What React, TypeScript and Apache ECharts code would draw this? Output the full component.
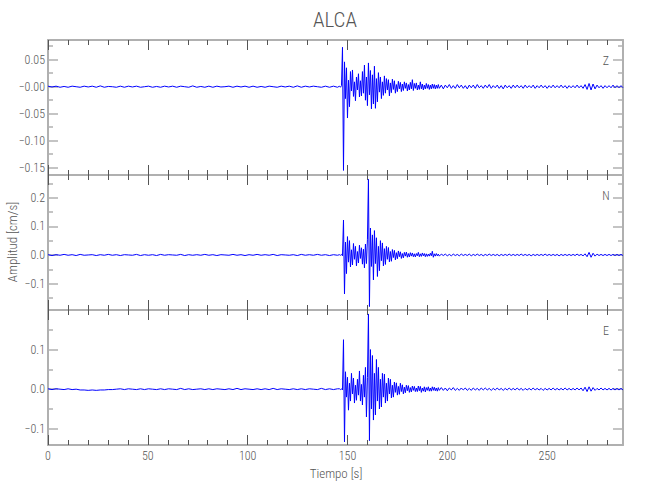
import React, { useEffect, useRef } from "react";
import * as echarts from "echarts";

const stationName = "ALCA";
const componentNames = ["Z", "N", "E"];
const xAxisName = "Tiempo [s]";
const yAxisName = "Amplitud [cm/s]";

const xRange = [0, 288];
const xTicks = [0, 50, 100, 150, 200, 250];
const xTickLabels = ["0", "50", "100", "150", "200", "250"];
const xMinorTicks = [10, 20, 30, 40, 60, 70, 80, 90, 110, 120, 130, 140, 160, 170, 180, 190, 210, 220, 230, 240, 260, 270, 280];

const zRange = [-0.1635, 0.0865];
const zTicks = [0.05, 0, -0.05, -0.1, -0.15];
const zTickLabels = ["0.05", "−0.00", "−0.05", "−0.10", "−0.15"];
const zMinorTicks = [0.075, 0.025, -0.025, -0.075, -0.125];

const nRange = [-0.192, 0.279];
const nTicks = [0.2, 0.1, 0, -0.1];
const nTickLabels = ["0.2", "0.1", "0.0", "−0.1"];
const nMinorTicks = [0.25, 0.15, 0.05, -0.05, -0.15];

const eRange = [-0.141, 0.2];
const eTicks = [0.1, 0, -0.1];
const eTickLabels = ["0.1", "0.0", "−0.1"];
const eMinorTicks = [0.15, 0.05, -0.05];

// Segment timing: quiet part spans 0–145 s, event sampled every 0.5 s from 146 s, tail spans 197–288 s
const quietSpan = [0, 145];
const eventStart = 146;
const eventStep = 0.5;
const tailSpan = [197, 288];

// ---- Z component ----
const zQuiet = [0.001, -0.0005, 0.001, -0.001, 0.0005, -0.001, 0.001, 0.0, -0.001, 0.001, -0.0005, 0.001, -0.001, 0.0015, -0.001, 0.0005, 0.0, -0.001, 0.001, -0.001, 0.001, -0.0005, 0.001, -0.001, 0.0, 0.001, -0.001, 0.0005, -0.001, 0.001, -0.0005, 0.001, -0.001, 0.001, 0.0, -0.001, 0.0015, -0.001, 0.0005, -0.001, 0.001, -0.001, 0.001, -0.0005, 0.0, 0.001, -0.001, 0.001, -0.0005, 0.001, -0.001, 0.001, -0.001, 0.0005, -0.001, 0.001, 0.0, -0.001, 0.001, -0.0005, 0.001, -0.001, 0.0015, -0.001, 0.001, -0.0005, 0.001, 0.0, -0.001, 0.001, -0.001, 0.001, -0.001];
const zEvent = [
  0.001, -0.001, 0.002, 0.073, -0.155, 0.046, -0.022, 0.035, -0.058, 0.012,
  -0.037, 0.028, -0.008, 0.031, -0.018, 0.009, -0.026, 0.018, -0.006, 0.024,
  -0.019, 0.011, -0.017, 0.028, -0.012, 0.04, -0.025, 0.018, -0.035, 0.044,
  -0.015, 0.03, -0.041, 0.022, -0.032, 0.038, -0.04, 0.015, -0.028, 0.026,
  -0.01, 0.018, -0.022, 0.009, -0.016, 0.02, -0.012, 0.015, -0.006, 0.013,
  -0.017, 0.007, -0.011, 0.014, -0.005, 0.011, -0.012, 0.004, -0.009, 0.01,
  -0.004, 0.008, -0.009, 0.005, -0.007, 0.009, -0.003, 0.007, -0.008, 0.004,
  -0.006, 0.008, -0.004, 0.013, -0.007, 0.006, -0.003, 0.007, -0.006, 0.003,
  -0.005, 0.009, -0.004, 0.005, -0.006, 0.003, -0.004, 0.006, -0.003, 0.004,
  -0.005, 0.003, -0.004, 0.005, -0.003, 0.004, -0.004, 0.003, -0.003, 0.004,
  -0.003,
];
const zTail = [0.003, -0.004, 0.003, -0.002, 0.004, -0.003, 0.002, -0.003, 0.004, -0.002, 0.003, -0.003, 0.002, -0.004, 0.003, -0.002, 0.003, -0.003, 0.004, -0.002, 0.002, -0.003, 0.003, -0.002, 0.004, -0.003, 0.002, -0.002, 0.003, -0.003, 0.002, -0.004, 0.003, -0.002, 0.002, -0.003, 0.003, -0.002, 0.003, -0.002, 0.002, -0.003, 0.003, -0.002, 0.002, -0.002, 0.003, -0.003, 0.002, -0.002, 0.003, -0.002, 0.002, -0.003, 0.002, -0.002, 0.003, -0.002, 0.002, -0.002, 0.003, -0.002, 0.002, -0.003, 0.002, -0.002, 0.002, -0.002, 0.003, -0.002, 0.002, -0.003, 0.004, -0.005, 0.006, -0.006, 0.005, -0.004, 0.003, -0.002, 0.002, -0.003, 0.002, -0.002, 0.002, -0.002, 0.003, -0.002, 0.002, -0.002, 0.002, -0.002];

// ---- N component ----
const nQuiet = [0.001, -0.002, 0.001, -0.001, 0.002, -0.001, 0.001, -0.002, 0.002, -0.001, 0.0, 0.001, -0.002, 0.001, -0.001, 0.002, -0.001, 0.001, -0.002, 0.001, 0.0, -0.001, 0.002, -0.002, 0.001, -0.001, 0.001, -0.002, 0.002, -0.001, 0.001, 0.0, -0.001, 0.002, -0.002, 0.001, -0.001, 0.001, -0.001, 0.002, -0.001, 0.001, -0.002, 0.001, 0.0, -0.001, 0.002, -0.001, 0.001, -0.002, 0.001, -0.001, 0.002, -0.001, 0.001, -0.001, 0.002, -0.002, 0.001, 0.0, -0.001, 0.001, -0.002, 0.002, -0.001, 0.001, -0.001, 0.002, -0.001, 0.001, -0.002, 0.001, -0.001];
const nEvent = [
  0.001, -0.001, 0.002, -0.003, 0.122, -0.136, 0.045, -0.065, 0.064, -0.025,
  0.05, -0.042, 0.018, -0.035, 0.04, -0.015, 0.03, -0.038, 0.012, -0.028,
  0.034, -0.012, 0.025, -0.032, 0.02, -0.045, 0.038, -0.03, 0.055, 0.264,
  -0.18, 0.094, -0.04, 0.07, -0.087, 0.085, -0.03, 0.06, -0.075, 0.03,
  -0.055, 0.05, -0.02, 0.042, -0.038, 0.022, -0.033, 0.03, -0.015, 0.026,
  -0.024, 0.012, -0.022, 0.019, -0.009, 0.016, -0.017, 0.008, -0.013, 0.014,
  -0.006, 0.011, -0.012, 0.005, -0.01, 0.009, -0.004, 0.01, -0.008, 0.005,
  -0.007, 0.008, -0.004, 0.007, -0.006, 0.004, -0.007, 0.005, -0.003, 0.009,
  -0.006, 0.004, -0.005, 0.007, -0.003, 0.005, -0.006, 0.004, -0.005, 0.003,
  -0.004, 0.006, -0.003, 0.013, -0.008, 0.004, -0.004, 0.005, -0.003, 0.003,
  -0.004,
];
const nTail = [0.003, -0.002, 0.003, -0.003, 0.002, -0.003, 0.003, -0.002, 0.002, -0.003, 0.003, -0.002, 0.002, -0.002, 0.003, -0.003, 0.002, -0.002, 0.003, -0.002, 0.002, -0.003, 0.002, -0.002, 0.003, -0.002, 0.002, -0.002, 0.002, -0.003, 0.002, -0.002, 0.002, -0.002, 0.003, -0.002, 0.002, -0.002, 0.002, -0.002, 0.003, -0.002, 0.002, -0.002, 0.002, -0.003, 0.002, -0.002, 0.002, -0.002, 0.002, -0.002, 0.003, -0.002, 0.002, -0.002, 0.002, -0.002, 0.002, -0.003, 0.002, -0.002, 0.002, -0.002, 0.002, -0.002, 0.002, -0.002, 0.003, -0.002, 0.002, -0.003, 0.004, -0.006, 0.009, -0.008, 0.006, -0.004, 0.003, -0.002, 0.002, -0.002, 0.002, -0.002, 0.002, -0.002, 0.002, -0.002, 0.002, -0.002, 0.002, -0.002];

// ---- E component ----
const eQuiet = [0.001, -0.001, 0.001, 0.0, -0.001, 0.001, -0.001, 0.0, -0.002, -0.002, -0.003, -0.002, -0.003, -0.002, -0.002, -0.001, -0.001, 0.0, 0.001, -0.001, 0.001, 0.0, -0.001, 0.001, -0.001, 0.001, 0.0, -0.001, 0.001, -0.001, 0.001, 0.0, -0.001, 0.002, -0.001, 0.001, -0.001, 0.0, 0.001, -0.001, 0.001, -0.001, 0.001, 0.0, -0.001, 0.001, -0.001, 0.002, -0.001, 0.001, 0.0, -0.001, 0.001, -0.001, 0.001, -0.001, 0.002, -0.001, 0.001, 0.0, -0.001, 0.001, -0.001, 0.001, -0.001, 0.001, 0.0, -0.001, 0.002, -0.001, 0.001, -0.001, 0.001];
const eEvent = [
  0.001, -0.001, 0.001, -0.002, 0.125, -0.133, 0.044, -0.02, 0.03, -0.053,
  0.015, -0.03, 0.04, -0.012, 0.028, -0.035, 0.01, -0.028, 0.025, -0.015,
  0.046, -0.03, 0.012, -0.04, 0.035, -0.02, 0.055, -0.07, 0.03, 0.19,
  -0.13, 0.1, -0.05, 0.085, -0.078, 0.04, -0.065, 0.075, -0.03, 0.055,
  -0.05, 0.025, -0.045, 0.04, -0.02, 0.038, -0.035, 0.015, -0.03, 0.028,
  -0.012, 0.025, -0.022, 0.01, -0.02, 0.018, -0.008, 0.016, -0.015, 0.007,
  -0.013, 0.015, -0.006, 0.011, -0.012, 0.005, -0.009, 0.01, -0.004, 0.009,
  -0.008, 0.004, -0.007, 0.008, -0.003, 0.007, -0.006, 0.003, -0.006, 0.008,
  -0.004, 0.007, -0.008, 0.003, -0.005, 0.006, -0.007, 0.004, -0.003, 0.006,
  -0.005, 0.003, -0.005, 0.006, -0.003, 0.005, -0.004, 0.003, -0.005, 0.004,
  -0.003,
];
const eTail = [0.004, -0.003, 0.003, -0.004, 0.003, -0.002, 0.004, -0.003, 0.002, -0.003, 0.003, -0.002, 0.003, -0.003, 0.002, -0.003, 0.003, -0.002, 0.002, -0.003, 0.003, -0.002, 0.003, -0.002, 0.002, -0.003, 0.002, -0.002, 0.003, -0.002, 0.002, -0.003, 0.002, -0.002, 0.003, -0.002, 0.002, -0.002, 0.003, -0.002, 0.002, -0.003, 0.002, -0.002, 0.002, -0.002, 0.003, -0.002, 0.002, -0.002, 0.002, -0.003, 0.002, -0.002, 0.002, -0.002, 0.003, -0.002, 0.002, -0.002, 0.002, -0.002, 0.003, -0.002, 0.002, -0.002, 0.002, -0.002, 0.003, -0.002, 0.003, -0.004, 0.005, -0.006, 0.006, -0.005, 0.004, -0.003, 0.002, -0.002, 0.003, -0.002, 0.002, -0.002, 0.002, -0.002, 0.002, -0.002, 0.002, -0.002, 0.002, -0.002];

const FONT = "'Roboto Condensed', 'Liberation Sans Narrow', Roboto, sans-serif";
const FONT_WEIGHT = 300;
const TEXT_COLOR = "#555555";
const AXIS_COLOR = "#b0b0b0";
const XTICK_COLOR = "#555555";

function spanned(values: number[], t0: number, t1: number): number[][] {
  const step = (t1 - t0) / (values.length - 1);
  return values.map((v, i) => [t0 + i * step, v]);
}
function stepped(values: number[], t0: number, step: number): number[][] {
  return values.map((v, i) => [t0 + i * step, v]);
}
function trace(q: number[], ev: number[], tl: number[]): number[][] {
  return [
    ...spanned(q, quietSpan[0], quietSpan[1]),
    ...stepped(ev, eventStart, eventStep),
    ...spanned(tl, tailSpan[0], tailSpan[1]),
  ];
}

const GRID_LEFT = 48;
const GRID_RIGHT = 27;
const GRID_TOPS = [40, 175, 310];
const GRID_H = 135;

function labelFor(ticks: number[], labels: string[]) {
  return (v: number) => {
    let best = 0;
    for (let i = 1; i < ticks.length; i++) {
      if (Math.abs(ticks[i] - v) < Math.abs(ticks[best] - v)) best = i;
    }
    return labels[best];
  };
}

function makeXAxes(g: number, showLabels: boolean) {
  const base = {
    type: "value",
    gridIndex: g,
    min: xRange[0],
    max: xRange[1],
    splitLine: { show: false },
    axisLabel: { show: false },
    axisLine: { show: false, onZero: false },
    axisTick: { show: false },
  };
  const line = { show: true, onZero: false, lineStyle: { color: AXIS_COLOR, width: 2 } };
  const major = { show: true, inside: true, length: 10, customValues: xTicks, lineStyle: { color: XTICK_COLOR, width: 1 } };
  const minor = { show: true, inside: true, length: 5, customValues: xMinorTicks, lineStyle: { color: XTICK_COLOR, width: 1 } };
  return [
    {
      ...base,
      position: "bottom",
      axisLine: line,
      axisTick: major,
      axisLabel: showLabels
        ? {
            show: true,
            customValues: xTicks,
            formatter: labelFor(xTicks, xTickLabels),
            color: TEXT_COLOR,
            fontFamily: FONT,
            fontWeight: FONT_WEIGHT,
            fontSize: 12,
            margin: 5,
          }
        : { show: false },
    },
    { ...base, position: "bottom", axisTick: minor },
    { ...base, position: "top", axisLine: line, axisTick: major },
    { ...base, position: "top", axisTick: minor },
  ];
}

function makeYAxes(g: number, range: number[], ticks: number[], labels: string[], minors: number[]) {
  const base = {
    type: "value",
    gridIndex: g,
    min: range[0],
    max: range[1],
    splitLine: { show: false },
    axisLabel: { show: false },
    axisLine: { show: false, onZero: false },
    axisTick: { show: false },
  };
  const line = { show: true, onZero: false, lineStyle: { color: AXIS_COLOR, width: 2 } };
  const major = { show: true, inside: true, length: 10, customValues: ticks, lineStyle: { color: AXIS_COLOR, width: 1.5 } };
  const minor = { show: true, inside: true, length: 5, customValues: minors, lineStyle: { color: AXIS_COLOR, width: 1.5 } };
  return [
    {
      ...base,
      position: "left",
      axisLine: line,
      axisTick: major,
      axisLabel: {
        show: true,
        customValues: ticks,
        formatter: labelFor(ticks, labels),
        color: TEXT_COLOR,
        fontFamily: FONT,
        fontWeight: FONT_WEIGHT,
        fontSize: 12,
        margin: 3,
      },
    },
    { ...base, position: "left", axisTick: minor },
    { ...base, position: "right", axisLine: line, axisTick: major },
    { ...base, position: "right", axisTick: minor },
  ];
}

export default function App() {
  const ref = useRef<HTMLDivElement>(null);

  useEffect(() => {
    if (!ref.current) return;
    const chart = echarts.init(ref.current, undefined, { renderer: "svg" });

    const traces = [trace(zQuiet, zEvent, zTail), trace(nQuiet, nEvent, nTail), trace(eQuiet, eEvent, eTail)];

    const grids = GRID_TOPS.map((top) => ({ left: GRID_LEFT, right: GRID_RIGHT, top, height: GRID_H }));
    const xAxes = [...makeXAxes(0, false), ...makeXAxes(1, false), ...makeXAxes(2, true)];
    const yAxes = [
      ...makeYAxes(0, zRange, zTicks, zTickLabels, zMinorTicks),
      ...makeYAxes(1, nRange, nTicks, nTickLabels, nMinorTicks),
      ...makeYAxes(2, eRange, eTicks, eTickLabels, eMinorTicks),
    ];

    const series = traces.map((data, g) => ({
      type: "line",
      name: componentNames[g],
      xAxisIndex: g * 4,
      yAxisIndex: g * 4,
      data,
      showSymbol: false,
      symbol: "none",
      lineStyle: { color: "#0000ff", width: 1 },
      itemStyle: { color: "#0000ff" },
      clip: true,
      z: 1,
    }));

    const textStyle = (text: string, size: number) => ({
      text,
      fill: TEXT_COLOR,
      font: `${FONT_WEIGHT} ${size}px ${FONT}`,
      textAlign: "center",
      textVerticalAlign: "middle",
    });

    const graphic: any[] = [
      { type: "text", x: 335, y: 20, style: textStyle(stationName, 21) },
      { type: "text", x: 12, y: 242, rotation: Math.PI / 2, style: textStyle(yAxisName, 13) },
      { type: "text", x: 336, y: 473, style: textStyle(xAxisName, 13) },
      ...componentNames.map((c, g) => ({
        type: "text",
        x: 606,
        y: GRID_TOPS[g] + 21,
        style: textStyle(c, 12),
      })),
    ];

    chart.setOption({
      animation: false,
      backgroundColor: "#ffffff",
      grid: grids,
      xAxis: xAxes,
      yAxis: yAxes,
      series,
      graphic,
    });

    return () => chart.dispose();
  }, []);

  return (
    <div
      ref={ref}
      style={{ position: "fixed", left: 0, top: 0, width: 650, height: 500, background: "#fff" }}
    />
  );
}
